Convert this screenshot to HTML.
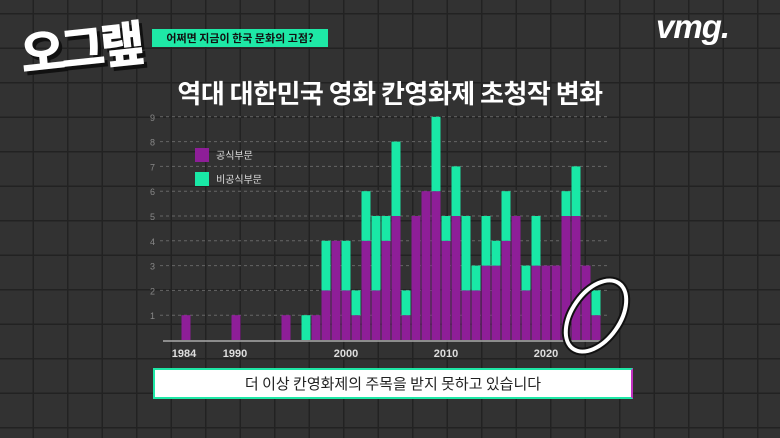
<!DOCTYPE html>
<html><head><meta charset="utf-8">
<style>
html,body{margin:0;padding:0;}
body{width:780px;height:438px;overflow:hidden;position:relative;font-family:"Liberation Sans","Noto Sans CJK KR",sans-serif;
background-color:#323232;
background-image:linear-gradient(#222 1.5px,transparent 1.5px),linear-gradient(90deg,#222 1.5px,transparent 1.5px);
background-size:34.5px 34.5px;background-position:0 13px,-2px 0;}
.abs{position:absolute;}
</style></head><body>
<div class="abs" style="left:20px;top:10px;font:900 48px 'Noto Sans CJK KR',sans-serif;color:#fff;transform:rotate(-6deg);letter-spacing:-4px;text-shadow:3px 4px 0 #111;">오그랲</div>
<div class="abs" style="left:152px;top:29px;width:176px;height:18px;background:#1ee8a6;color:#111;font:700 11px 'Noto Sans CJK KR',sans-serif;line-height:18px;text-align:center;">어쩌면 지금이 한국 문화의 고점?</div>
<div class="abs" style="left:656px;top:8px;font:italic 900 33px 'Liberation Sans',sans-serif;color:#fff;letter-spacing:-1px;">vmg.</div>
<div class="abs" style="left:0;width:780px;top:74px;text-align:center;font:700 26px 'Noto Sans CJK KR',sans-serif;color:#fff;letter-spacing:-0.5px;">역대 대한민국 영화 칸영화제 초청작 변화</div>
<svg class="abs" style="left:0;top:0" width="780" height="438" id="chart"></svg>
<div class="abs" style="left:153px;top:368px;width:476px;height:27px;background:#fff;border:2px solid #1ee8a6;border-right-color:#c030c0;border-bottom-color:#1ee8a6;color:#222;font:400 15px 'Noto Sans CJK KR',sans-serif;line-height:27px;text-align:center;">더 이상 칸영화제의 주목을 받지 못하고 있습니다</div>
<script>
const years=[1984,1989,1994,1996,1997,1998,1999,2000,2001,2002,2003,2004,2005,2006,2007,2008,2009,2010,2011,2012,2013,2014,2015,2016,2017,2018,2019,2020,2021,2022,2023,2024,2025];
const official=[1,1,1,0,1,2,4,2,1,4,2,4,5,1,5,6,6,4,5,2,2,3,3,4,5,2,3,3,3,5,5,3,1];
const unofficial=[0,0,0,1,0,2,0,2,1,2,3,1,3,1,0,0,3,1,2,3,1,2,1,2,0,1,2,0,0,1,2,0,1];
const yTicks=[1,2,3,4,5,6,7,8,9];
const xTicks=[1984,1990,2000,2010,2020];
const NS='http://www.w3.org/2000/svg';
const svg=document.getElementById('chart');
const x=y=>346+(y-2000)*10;
const yv=v=>340-v*24.8;
function mk(t,a){const e=document.createElementNS(NS,t);for(const k in a)e.setAttribute(k,a[k]);svg.appendChild(e);return e;}
yTicks.forEach(t=>{
 const l=mk('line',{x1:160,x2:610,y1:yv(t),y2:yv(t),stroke:'#666','stroke-dasharray':'3,3','stroke-width':1});
 
 
 const tx=mk('text',{x:150,y:yv(t)+4,fill:'#888','font-size':9,'font-family':'Liberation Sans'});
 tx.textContent=t;
 
 
});
years.forEach((yr,i)=>{
 const p=official[i],u=unofficial[i];
 if(p>0){const r=mk('rect',{x:x(yr)-4.5,y:yv(p),width:9,height:yv(0)-yv(p),fill:'#8e1e98'});
 
 }
 if(u>0){const r=mk('rect',{x:x(yr)-4.5,y:yv(p+u),width:9,height:yv(p)-yv(p+u),fill:'#19e8a6'});
 
 }
});
const ax=mk('line',{x1:163,x2:605,y1:341,y2:341,stroke:'#aaa','stroke-width':1.5});


const tickPos={1984:184,1990:235,2000:346,2010:446,2020:546};
xTicks.forEach(t=>{
 const tx=mk('text',{x:tickPos[t],y:357,fill:'#ddd','font-size':11,'font-weight':'bold','text-anchor':'middle','font-family':'Liberation Sans'});
 tx.textContent=t;
 
 
});
[['공식부문','#8e1e98',148],['비공식부문','#19e8a6',172]].forEach(([n,c,yy])=>{
 const r=mk('rect',{x:195,y:yy,width:14,height:14,fill:c});
 
 
 const t=mk('text',{x:216,y:yy+11,fill:'#ddd','font-size':10,'font-family':'Noto Sans CJK KR'});
 t.textContent=n;
 
 
});
const c0=mk('ellipse',{cx:596,cy:316,rx:40,ry:24,transform:'rotate(-55 596 316)',fill:'none',stroke:'#111','stroke-width':8});


const c=mk('ellipse',{cx:596,cy:316,rx:40,ry:24,transform:'rotate(-55 596 316)',fill:'none',stroke:'#fff','stroke-width':4});


</script>
</body></html>
